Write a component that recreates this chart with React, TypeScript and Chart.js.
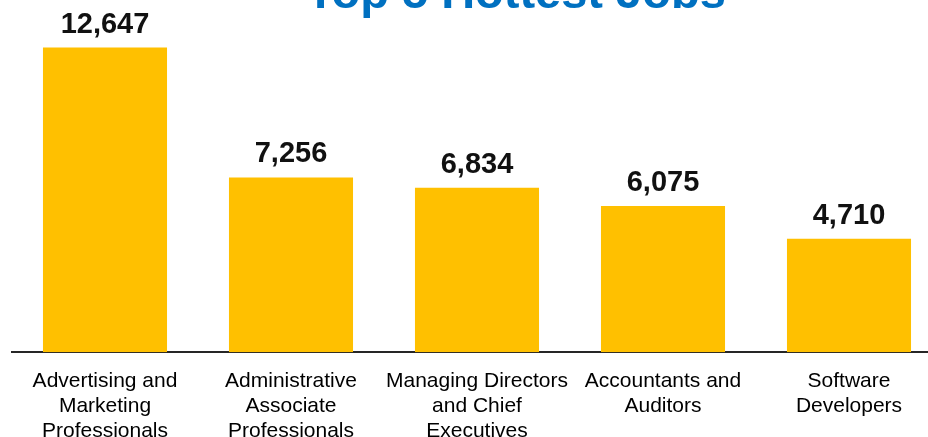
import React, { useEffect, useRef } from "react";
import { Chart, registerables } from "chart.js";

Chart.register(...registerables);

const categories: string[][] = [
  ["Advertising and", "Marketing", "Professionals"],
  ["Administrative", "Associate", "Professionals"],
  ["Managing Directors", "and Chief", "Executives"],
  ["Accountants and", "Auditors"],
  ["Software", "Developers"],
];
const jobCounts: number[] = [12647, 7256, 6834, 6075, 4710];
const titleText = "Top 5 Hottest Jobs";

const FONT = "'Liberation Sans', Arial, Helvetica, sans-serif";

const valueLabels = {
  id: "valueLabels",
  afterDatasetsDraw(chart: any) {
    const ctx = chart.ctx;
    const meta = chart.getDatasetMeta(0);
    ctx.save();
    ctx.font = `bold 29px ${FONT}`;
    ctx.fillStyle = "#111111";
    ctx.textAlign = "center";
    ctx.textBaseline = "alphabetic";
    meta.data.forEach((bar: any, i: number) => {
      const v = chart.data.datasets[0].data[i] as number;
      ctx.fillText(v.toLocaleString("en-US"), bar.x, bar.y - 15);
    });
    ctx.restore();
  },
};

const cutTitle = {
  id: "cutTitle",
  afterDraw(chart: any) {
    const ctx = chart.ctx;
    ctx.save();
    ctx.font = `bold 47px ${FONT}`;
    ctx.fillStyle = "#0070C0";
    ctx.textAlign = "center";
    ctx.textBaseline = "alphabetic";
    ctx.fillText(titleText, 516, 8);
    ctx.restore();
  },
};

export default function App() {
  const ref = useRef<HTMLCanvasElement>(null);
  useEffect(() => {
    document.body.style.margin = "0";
    document.body.style.overflow = "hidden";
    if (!ref.current) return;
    const chart = new Chart(ref.current, {
      type: "bar",
      data: {
        labels: categories,
        datasets: [
          {
            data: jobCounts,
            backgroundColor: "#FFC000",
            borderWidth: 0,
            categoryPercentage: 1,
            barPercentage: 0.667,
          },
        ],
      },
      options: {
        animation: false,
        responsive: false,
        devicePixelRatio: 1,
        layout: { padding: { left: 12, right: 0, top: 15, bottom: 0 } },
        plugins: {
          legend: { display: false },
          tooltip: { enabled: false },
          title: { display: false },
        },
        scales: {
          y: { display: false, min: 0, max: 14000 },
          x: {
            grid: { display: false, drawTicks: false },
            border: { display: true, color: "#262626", width: 2 },
            ticks: {
              autoSkip: false,
              maxRotation: 0,
              minRotation: 0,
              padding: 17,
              color: "#000000",
              font: { family: FONT, size: 21, lineHeight: 1.17 },
            },
          },
        },
      },
      plugins: [valueLabels, cutTitle],
    });
    return () => chart.destroy();
  }, []);
  return (
    <div style={{ width: 928, height: 437, overflow: "hidden", position: "relative" }}>
      <canvas ref={ref} width={942} height={460} style={{ display: "block" }} />
    </div>
  );
}
